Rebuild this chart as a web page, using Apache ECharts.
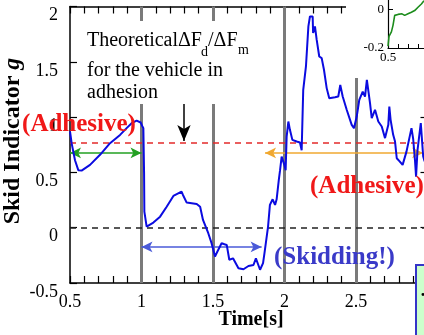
<!DOCTYPE html>
<html>
<head>
<meta charset="utf-8">
<script src="https://cdn.jsdelivr.net/npm/echarts@6/dist/echarts.min.js"></script>
<style>
  html, body { margin: 0; padding: 0; background: #fff; }
  #main { width: 424px; height: 335px; }
</style>
</head>
<body>
<div id="main"></div>
<script>
// skid indicator trace
const timeS = [0.5, 0.512, 0.535, 0.558, 0.581, 0.64, 0.71, 0.78, 0.85, 0.896, 0.931, 0.966, 0.994, 1.005, 1.013, 1.018, 1.02, 1.036,
  1.083, 1.13, 1.176, 1.223, 1.28, 1.29, 1.316, 1.386, 1.41, 1.43, 1.467, 1.49, 1.514, 1.53, 1.56, 1.58, 1.596, 1.614, 1.64,
  1.678, 1.713, 1.748, 1.783, 1.8, 1.817, 1.829, 1.85, 1.86, 1.885, 1.898, 1.917, 1.934, 1.945, 1.96, 1.969, 1.98, 1.999,
  2.008, 2.015, 2.027, 2.038, 2.055, 2.085, 2.108, 2.12, 2.131, 2.15, 2.167, 2.178, 2.197, 2.2, 2.213, 2.225, 2.243, 2.26,
  2.276, 2.295, 2.313, 2.353, 2.376, 2.39, 2.407, 2.435, 2.47, 2.486, 2.505, 2.523, 2.547, 2.563, 2.576, 2.598, 2.61, 2.633,
  2.656, 2.68, 2.703, 2.726, 2.733, 2.742, 2.76, 2.773, 2.785, 2.805, 2.826, 2.853, 2.888, 2.9, 2.913, 2.92, 2.93, 2.953, 2.97, 2.98];
const skidG = [0.87, 0.76, 0.61, 0.52, 0.516, 0.568, 0.659, 0.764, 0.839, 0.9, 0.945, 0.969, 0.951, 0.92, 0.9, 0.5, 0.145, 0.01,
  0.046, 0.1, 0.19, 0.287, 0.327, 0.296, 0.227, 0.215, 0.19, 0.07, -0.05, -0.14, -0.26, -0.217, -0.14, -0.15, -0.156, -0.29, -0.277,
  -0.367, -0.376, -0.346, -0.337, -0.277, -0.337, -0.38, -0.32, -0.23, 0.01, 0.206, 0.257, 0.206, 0.257, 0.43, 0.52, 0.643, 0.568,
  0.52, 0.824, 0.96, 0.885, 0.794, 0.779, 0.77, 0.7, 1.247, 1.458, 1.82, 1.91, 1.91, 1.76, 1.82, 1.7, 1.548, 1.533,
  1.428, 1.262, 1.171, 1.18, 1.186, 1.29, 1.186, 1.066, 0.93, 0.9, 1.005, 1.156, 1.231, 1.186, 1.337, 1.126, 0.99, 1.066,
  0.96, 0.915, 0.81, 0.93, 1.095, 0.975, 0.84, 0.779, 0.628, 0.6, 0.568, 0.688, 0.9, 0.8, 0.6, 0.462, 0.7, 0.945, 0.643, 0.6];

// inset trace
const insetTime = [0.5, 0.51, 0.534, 0.55, 0.567, 0.584, 0.6, 0.617, 0.64, 0.667, 0.7, 0.734, 0.767, 0.8, 0.834, 0.86];
const insetValue = [-0.19, -0.14, -0.116, -0.082, -0.03, -0.04, -0.025, -0.03, -0.022, -0.03, -0.022, -0.014, -0.005, 0.012, 0.029, 0.046];

// reference levels and annotated spans
const theoryLevel = 0.77;
const phaseMarks = [1, 1.5, 2, 2.5];
const adhesiveSpanA = [0.5, 1.0];
const adhesiveSpanB = [1.864, 2.969];
const skidSpan = [1.0, 1.84];
const spanLevel = 0.676;
const skidLevel = -0.174;
const pointerAt = [1.297, 1.174, 0.785];

const FONT = '"Liberation Serif", "Times New Roman", serif';

const chart = echarts.init(document.getElementById("main"));

const tickStyle = { color: "#000", width: 1.2 };
const mainX = (pos, labels) => ({
  gridIndex: 0,
  type: "value",
  position: pos,
  min: 0.5,
  max: 3,
  interval: 0.5,
  axisLine: { onZero: false, lineStyle: { color: "#000", width: 1.5 } },
  axisTick: { inside: true, length: 7, lineStyle: tickStyle },
  minorTick: { show: true, splitNumber: 5, length: 7, lineStyle: tickStyle },
  splitLine: { show: false },
  axisLabel: { show: labels, color: "#000", fontSize: 18, fontFamily: FONT, margin: 10 },
});
const mainY = (pos, labels) => ({
  gridIndex: 0,
  type: "value",
  position: pos,
  min: -0.5,
  max: 2,
  interval: 0.5,
  axisLine: { onZero: false, lineStyle: { color: "#000", width: 1.5 } },
  axisTick: { inside: true, length: 7, lineStyle: tickStyle },
  splitLine: { show: false },
  axisLabel: { show: labels, color: "#000", fontSize: 18, fontFamily: FONT, margin: 12, verticalAlign: "top" },
});

const span = (a, b, y, color) => [
  { coord: [a, y], lineStyle: { color, width: 1.5, type: "solid" } },
  { coord: [b, y] },
];

const options = {
  animation: false,
  backgroundColor: "#fff",
  grid: [
    { left: 70, top: 6.5, width: 357.5, height: 276.5, outerBoundsMode: "none", containLabel: false },
    { left: 388, top: 0, width: 100, height: 48, outerBoundsMode: "none", containLabel: false },
  ],
  xAxis: [
    mainX("bottom", true),
    mainX("top", false),
    {
      gridIndex: 1,
      type: "value",
      min: 0.5,
      max: 1.5,
      interval: 0.1,
      z: 20,
      axisLine: { onZero: false, lineStyle: { color: "#000", width: 1.2 } },
      axisTick: { inside: true, length: 4, lineStyle: { color: "#000", width: 1 } },
      splitLine: { show: false },
      axisLabel: {
        color: "#000",
        fontSize: 13,
        fontFamily: FONT,
        margin: 3,
        formatter: (v) => (v === 0.5 ? "0.5" : ""),
      },
    },
  ],
  yAxis: [
    mainY("left", true),
    mainY("right", false),
    {
      gridIndex: 1,
      type: "value",
      min: -0.2,
      max: 0.05,
      interval: 0.2,
      z: 20,
      axisLine: { onZero: false, lineStyle: { color: "#000", width: 1.2 } },
      axisTick: { inside: true, length: 5, lineStyle: { color: "#000", width: 1 } },
      splitLine: { show: false },
      axisLabel: { color: "#000", fontSize: 13, fontFamily: FONT, margin: 4, padding: [6, 0, 0, 0], showMaxLabel: false },
    },
  ],
  series: [
    {
      name: "phases",
      type: "line",
      data: [],
      z: 1,
      markLine: {
        silent: true,
        symbol: "none",
        animation: false,
        label: { show: false },
        lineStyle: { color: "#7a7a7a", width: 3, type: "solid" },
        data: phaseMarks.map((x) => ({ xAxis: x })),
      },
    },
    {
      name: "levels",
      type: "line",
      data: [],
      z: 2,
      markLine: {
        silent: true,
        symbol: "none",
        animation: false,
        label: { show: false },
        data: [
          { yAxis: 0, lineStyle: { color: "#222", width: 1.5, type: [6, 5] } },
          { yAxis: theoryLevel, lineStyle: { color: "#e42a2a", width: 1.5, type: [6, 5] } },
        ],
      },
    },
    {
      name: "skid",
      type: "line",
      data: timeS.map((t, i) => [t, skidG[i]]),
      showSymbol: false,
      z: 5,
      lineStyle: { color: "#0b0be0", width: 2 },
    },
    {
      name: "spans",
      type: "line",
      data: [],
      z: 6,
      markLine: {
        silent: true,
        symbol: ["arrow", "arrow"],
        symbolSize: [8, 11],
        animation: false,
        label: { show: false },
        data: [
          span(adhesiveSpanA[0], adhesiveSpanA[1], spanLevel, "#22a022"),
          span(adhesiveSpanB[0], adhesiveSpanB[1], spanLevel, "#f0a830"),
          span(skidSpan[0], skidSpan[1], skidLevel, "#4a5ad8"),
        ],
      },
    },
    {
      name: "pointer",
      type: "line",
      data: [],
      z: 6,
      markLine: {
        silent: true,
        symbol: ["none", "arrow"],
        symbolSize: [10, 16],
        animation: false,
        label: { show: false },
        lineStyle: { color: "#000", width: 1.5, type: "solid" },
        data: [[{ coord: [pointerAt[0], pointerAt[1]] }, { coord: [pointerAt[0], pointerAt[2]] }]],
      },
    },
    {
      name: "inset",
      type: "line",
      xAxisIndex: 2,
      yAxisIndex: 2,
      data: insetTime.map((t, i) => [t, insetValue[i]]),
      showSymbol: false,
      z: 20,
      lineStyle: { color: "#1c8c1c", width: 1.6 },
    },
  ],
  graphic: [
    // white backing for the note and the inset
    { type: "rect", z: 10, shape: { x: 84, y: 21, width: 156, height: 83 }, style: { fill: "#fff" } },
    { type: "rect", z: 10, shape: { x: 346, y: 0, width: 80, height: 78 }, style: { fill: "#fff" } },
    {
      type: "rect",
      z: 10,
      shape: { x: 416, y: 265, width: 20, height: 80 },
      style: { fill: "#ccffcc", stroke: "#3434c8", lineWidth: 2 },
    },
    { type: "text", z: 11, x: 420, y: 296, style: { text: "·", font: `bold 18px ${FONT}`, fill: "#000", textVerticalAlign: "middle" } },
    { type: "text", z: 11, x: 87, y: 41, style: { text: "Theoretical", font: `20px ${FONT}`, fill: "#000", textVerticalAlign: "middle" } },
    { type: "text", z: 11, x: 178, y: 41, style: { text: "ΔF", font: `20px ${FONT}`, fill: "#000", textVerticalAlign: "middle" } },
    { type: "text", z: 11, x: 201, y: 52, style: { text: "d", font: `14px ${FONT}`, fill: "#000", textVerticalAlign: "middle" } },
    { type: "text", z: 11, x: 208, y: 41, style: { text: "/ΔF", font: `20px ${FONT}`, fill: "#000", textVerticalAlign: "middle" } },
    { type: "text", z: 11, x: 238, y: 50, style: { text: "m", font: `14px ${FONT}`, fill: "#000", textVerticalAlign: "middle" } },
    { type: "text", z: 11, x: 87, y: 71, style: { text: "for the vehicle in", font: `20px ${FONT}`, fill: "#000", textVerticalAlign: "middle" } },
    { type: "text", z: 11, x: 87, y: 93, style: { text: "adhesion", font: `20px ${FONT}`, fill: "#000", textVerticalAlign: "middle" } },
    { type: "text", z: 11, x: 79, y: 125, style: { text: "(Adhesive)", font: `bold 25px ${FONT}`, fill: "#f01818", textAlign: "center", textVerticalAlign: "middle" } },
    { type: "text", z: 11, x: 310, y: 187, style: { text: "(Adhesive)", font: `bold 25px ${FONT}`, fill: "#f01818", textVerticalAlign: "middle" } },
    { type: "text", z: 11, x: 274, y: 258, style: { text: "(Skidding!)", font: `bold 25px ${FONT}`, fill: "#3a3ac8", textVerticalAlign: "middle" } },
    { type: "text", z: 11, x: 251, y: 320, style: { text: "Time[s]", font: `bold 20px ${FONT}`, fill: "#000", textAlign: "center", textVerticalAlign: "middle" } },
    {
      type: "text",
      z: 11,
      x: 13,
      y: 141,
      rotation: Math.PI / 2,
      style: {
        text: "{b|Skid Indicator }{g|g}",
        textAlign: "center",
        textVerticalAlign: "middle",
        rich: {
          b: { fontFamily: FONT, fontSize: 24, fontWeight: "bold", fill: "#000", textFill: "#000" },
          g: { fontFamily: FONT, fontSize: 24, fontWeight: "bold", fontStyle: "italic", fill: "#000", textFill: "#000" },
        },
      },
    },
  ],
};

chart.setOption(options);
</script>
</body>
</html>
